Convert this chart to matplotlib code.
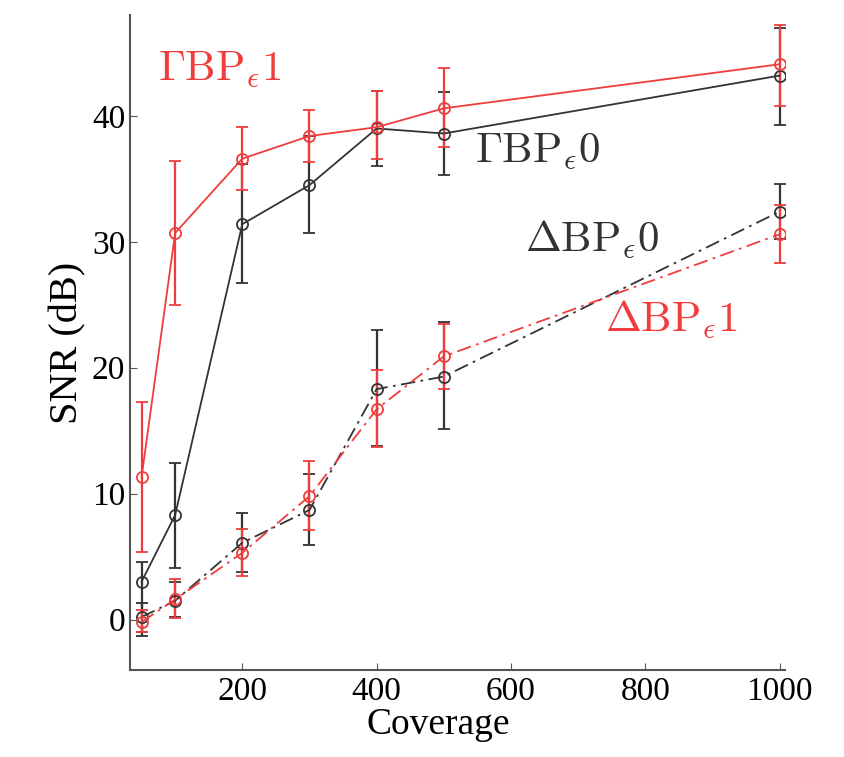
import matplotlib.pyplot as plt

plt.rcParams['font.family'] = ['Liberation Serif', 'DejaVu Serif']
plt.rcParams['mathtext.fontset'] = 'cm'

coverage = [50, 100, 200, 300, 400, 500, 1000]

# Gamma BP, eps 1 (red solid)
g1 = [11.3, 30.7, 36.6, 38.4, 39.1, 40.6, 44.1]
g1_lo = [5.4, 25.0, 34.1, 36.3, 36.6, 37.5, 40.8]
g1_hi = [17.3, 36.4, 39.1, 40.5, 42.0, 43.8, 47.2]

# Gamma BP, eps 0 (black solid)
g0 = [3.0, 8.3, 31.4, 34.5, 39.0, 38.6, 43.2]
g0_lo = [-1.0, 4.1, 26.7, 30.7, 36.0, 35.3, 39.3]
g0_hi = [4.6, 12.4, 36.2, 38.4, 42.0, 41.9, 47.0]

# Delta BP, eps 0 (black dash-dot)
d0 = [0.2, 1.5, 6.1, 8.7, 18.3, 19.3, 32.4]
d0_lo = [-1.3, 0.2, 3.8, 5.9, 13.8, 15.1, 30.2]
d0_hi = [1.3, 3.0, 8.5, 11.6, 23.0, 23.6, 34.6]

# Delta BP, eps 1 (red dash-dot)
d1 = [-0.2, 1.6, 5.3, 9.8, 16.7, 20.9, 30.6]
d1_lo = [-1.0, 0.1, 3.5, 7.1, 13.7, 18.3, 28.3]
d1_hi = [0.8, 3.2, 7.2, 12.6, 19.8, 23.5, 32.9]

red = '#f03c3c'
black = '#333333'

fig = plt.figure(figsize=(8.45, 7.57), dpi=100)
ax = fig.add_axes([0.154, 0.115, 0.775, 0.865])


def draw(y, lo, hi, color, ls):
    err = [[v - l for v, l in zip(y, lo)], [h - v for v, h in zip(y, hi)]]
    ax.errorbar(coverage, y, yerr=err, color=color, ls=ls, lw=1.3,
                marker='o', ms=8, mfc='none', mec=color, mew=1.3,
                elinewidth=1.6, capsize=4, capthick=1.6,
                dashes=(8, 3, 1.5, 3) if ls == '-.' else None)


draw(g0, g0_lo, g0_hi, black, '-')
draw(g1, g1_lo, g1_hi, red, '-')
draw(d0, d0_lo, d0_hi, black, '-.')
draw(d1, d1_lo, d1_hi, red, '-.')

ax.text(75, 42.8, r'$\Gamma\mathrm{BP}_\epsilon 1$', color=red, fontsize=31)
ax.text(546, 36.3, r'$\Gamma\mathrm{BP}_\epsilon 0$', color=black, fontsize=31)
ax.text(621, 29.2, r'$\Delta\mathrm{BP}_\epsilon 0$', color=black, fontsize=31)
ax.text(740, 22.9, r'$\Delta\mathrm{BP}_\epsilon 1$', color=red, fontsize=31)

ax.set_xlim(33, 1008)
ax.set_ylim(-4, 48)
ax.set_xticks([200, 400, 600, 800, 1000])
ax.set_yticks([0, 10, 20, 30, 40])
ax.tick_params(direction='in', labelsize=24, length=5, color='#555555')
ax.tick_params(axis='x', pad=5)
ax.set_xlabel('Coverage', fontsize=27)
ax.xaxis.set_label_coords(0.47, -0.058)
ax.set_ylabel('SNR (dB)', fontsize=29, labelpad=4)
for s in ['top', 'right']:
    ax.spines[s].set_visible(False)
for s in ['left', 'bottom']:
    ax.spines[s].set_color('#555555')
    ax.spines[s].set_linewidth(1.5)

fig.savefig('out.png', dpi=100)
